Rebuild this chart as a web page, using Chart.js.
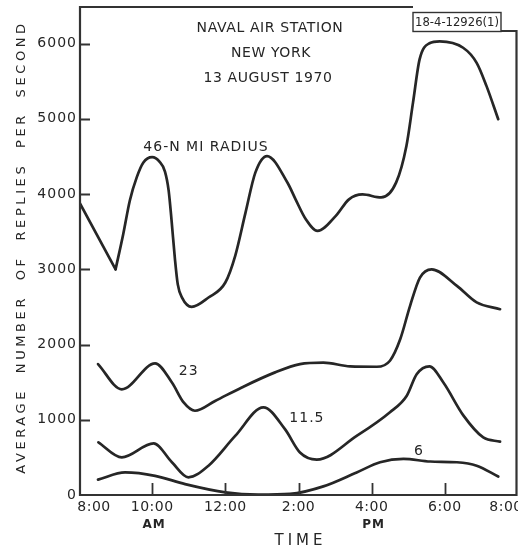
<!DOCTYPE html>
<html>
<head>
<meta charset="utf-8">
<script src="https://cdn.jsdelivr.net/npm/chart.js@4"></script>
<style>
  html, body { margin: 0; padding: 0; background: #fff; }
  #chart { display: block; }
</style>
</head>
<body>
<canvas id="chart" width="518" height="550"></canvas>
<script>
// time in hours (8 = 8:00 AM, 20 = 8:00 PM), values in replies per second
const r46Hours = [8.0, 9.0, 9.21, 9.39, 9.58, 9.76, 10.0, 10.2, 10.35, 10.45, 10.53, 10.62, 10.7, 10.82, 11.08, 11.54, 12.0, 12.27, 12.55, 12.82, 13.14, 13.7, 13.92, 14.2, 14.52, 15.02, 15.38, 15.75, 16.26, 16.67, 16.95, 17.13, 17.31, 17.58, 17.86, 18.5, 18.87, 19.14, 19.46];
const r46Values = [3900, 3000, 3470, 3915, 4225, 4420, 4490, 4430, 4300, 4050, 3650, 3150, 2800, 2620, 2500, 2625, 2825, 3180, 3750, 4285, 4505, 4150, 3930, 3665, 3510, 3710, 3930, 3995, 3955, 4155, 4640, 5215, 5790, 6005, 6030, 5945, 5745, 5435, 4995];

const r23Hours = [8.52, 9.17, 10.08, 10.54, 10.86, 11.17, 11.72, 12.45, 13.36, 14.04, 14.68, 15.41, 16.14, 16.5, 16.78, 17.05, 17.32, 17.64, 18.33, 18.87, 19.51];
const r23Values = [1740, 1405, 1750, 1495, 1230, 1120, 1250, 1430, 1630, 1740, 1760, 1710, 1705, 1785, 2070, 2515, 2890, 3000, 2780, 2560, 2470];

const r115Hours = [8.53, 9.17, 10.04, 10.54, 10.99, 11.54, 12.27, 13.04, 13.63, 14.04, 14.5, 15.59, 16.5, 16.96, 17.23, 17.58, 17.96, 18.51, 19.05, 19.51];
const r115Values = [700, 500, 685, 435, 235, 390, 785, 1165, 875, 565, 470, 785, 1100, 1320, 1605, 1710, 1495, 1055, 765, 710];

const r6Hours = [8.52, 9.26, 10.08, 10.9, 12.0, 12.9, 13.77, 14.68, 15.59, 16.23, 16.87, 17.6, 18.33, 18.87, 19.46];
const r6Values = [205, 300, 255, 145, 35, 5, 15, 115, 300, 435, 480, 445, 435, 390, 245];

const xTickHours = [8, 10, 12, 14, 16, 18, 20];
const xTickLabels = ["8:00", "10:00", "12:00", "2:00", "4:00", "6:00", "8:00"];
const yTicks = [0, 1000, 2000, 3000, 4000, 5000, 6000];

// curve name labels: [text, hour, value]
const curveLabels = [
  ["46-N MI RADIUS", 11.47, 4620],
  ["23", 11.0, 1650],
  ["11.5", 14.23, 1022],
  ["6", 17.29, 585],
];

const INK = "#262626";

const pts = (hs, vs) => hs.map((h, i) => ({ x: h, y: vs[i] }));
const curve = (data, mode) => ({
  data,
  borderColor: INK,
  borderWidth: 2.7,
  pointRadius: 0,
  fill: false,
  tension: mode ? 0 : 0.4,
  cubicInterpolationMode: mode ? "default" : "monotone",
  borderCapStyle: "round",
  borderJoinStyle: "round",
});

// 46-nmi curve has a sharp corner at 9:00, so the first leg is its own straight piece
const datasets = [
  curve(pts(r46Hours.slice(0, 2), r46Values.slice(0, 2)), "straight"),
  curve(pts(r46Hours.slice(1), r46Values.slice(1))),
  curve(pts(r23Hours, r23Values)),
  curve(pts(r115Hours, r115Values)),
  curve(pts(r6Hours, r6Values)),
];

const decor = {
  id: "decor",
  afterDraw(chart) {
    const ctx = chart.ctx;
    const xs = chart.scales.x, ys = chart.scales.y;
    const left = xs.getPixelForValue(8) + 1;
    const right = xs.getPixelForValue(20) - 1.5;
    const base = ys.getPixelForValue(0);
    const top = 7;
    ctx.save();

    // frame
    ctx.strokeStyle = "#333";
    ctx.lineWidth = 2.2;
    ctx.beginPath();
    ctx.moveTo(413, top); ctx.lineTo(left, top);
    ctx.lineTo(left, base); ctx.lineTo(right, base);
    ctx.lineTo(right, 31); ctx.lineTo(501, 31);
    ctx.stroke();
    ctx.lineWidth = 1.4;
    ctx.strokeRect(413, 12.5, 88, 19);

    // ticks pointing inward
    ctx.lineWidth = 1.8;
    ctx.beginPath();
    xTickHours.slice(1, -1).forEach(h => {
      const px = Math.round(xs.getPixelForValue(h)) + 0.5;
      ctx.moveTo(px, base); ctx.lineTo(px, base - 12);
    });
    yTicks.slice(1).forEach(v => {
      const py = Math.round(ys.getPixelForValue(v)) + 0.5;
      ctx.moveTo(left, py); ctx.lineTo(left + 10, py);
    });
    ctx.stroke();

    ctx.fillStyle = INK;
    ctx.textBaseline = "middle";

    // y tick labels
    ctx.font = "14px 'DejaVu Sans'";
    ctx.letterSpacing = "1px";
    ctx.textAlign = "right";
    yTicks.forEach(v => ctx.fillText(String(v), 77, ys.getPixelForValue(v)));

    // x tick labels (edge ones pushed inward like the original)
    ctx.letterSpacing = "0.5px";
    ctx.textAlign = "center";
    xTickHours.forEach((h, i) => {
      let px = xs.getPixelForValue(h);
      if (i === 0) px += 15;
      if (i === xTickHours.length - 1) px -= 12;
      ctx.fillText(xTickLabels[i], px, base + 12);
    });
    ctx.font = "bold 12px 'DejaVu Sans'";
    ctx.letterSpacing = "1px";
    ctx.fillText("AM", xs.getPixelForValue(10.05), base + 30);
    ctx.fillText("PM", xs.getPixelForValue(16.05), base + 30);
    ctx.font = "15px 'DejaVu Sans'";
    ctx.letterSpacing = "4px";
    ctx.fillText("TIME", xs.getPixelForValue(14) + 2, base + 46);

    // y axis title
    ctx.save();
    ctx.translate(22, 247);
    ctx.rotate(-Math.PI / 2);
    ctx.font = "13px 'DejaVu Sans'";
    ctx.letterSpacing = "3.6px";
    ctx.wordSpacing = "7px";
    ctx.fillText("AVERAGE NUMBER OF REPLIES PER SECOND", 0, 0);
    ctx.restore();

    // title block
    ctx.font = "14px 'DejaVu Sans'";
    ctx.letterSpacing = "0.6px";
    ctx.wordSpacing = "0px";
    ctx.fillText("NAVAL AIR STATION", 270, 28);
    ctx.fillText("NEW YORK", 271, 53);
    ctx.fillText("13 AUGUST 1970", 268, 78);

    // figure number box
    ctx.font = "13px 'DejaVu Sans'";
    ctx.letterSpacing = "0px";
    ctx.fillText("18-4-12926(1)", 457, 22.5, 84);

    // curve labels
    ctx.font = "14px 'DejaVu Sans'";
    ctx.letterSpacing = "1px";
    curveLabels.forEach(([t, h, v]) => {
      ctx.fillText(t, xs.getPixelForValue(h), ys.getPixelForValue(v));
    });
    ctx.restore();
  }
};

new Chart(document.getElementById("chart"), {
  type: "line",
  data: { datasets },
  options: {
    responsive: false,
    animation: false,
    devicePixelRatio: 1,
    layout: { padding: { left: 79, top: 6, right: 0, bottom: 55 } },
    plugins: { legend: { display: false }, tooltip: { enabled: false } },
    scales: {
      x: { type: "linear", min: 8, max: 20, display: false },
      y: { min: 0, max: 6500, display: false },
    },
  },
  plugins: [decor],
});
</script>
</body>
</html>
